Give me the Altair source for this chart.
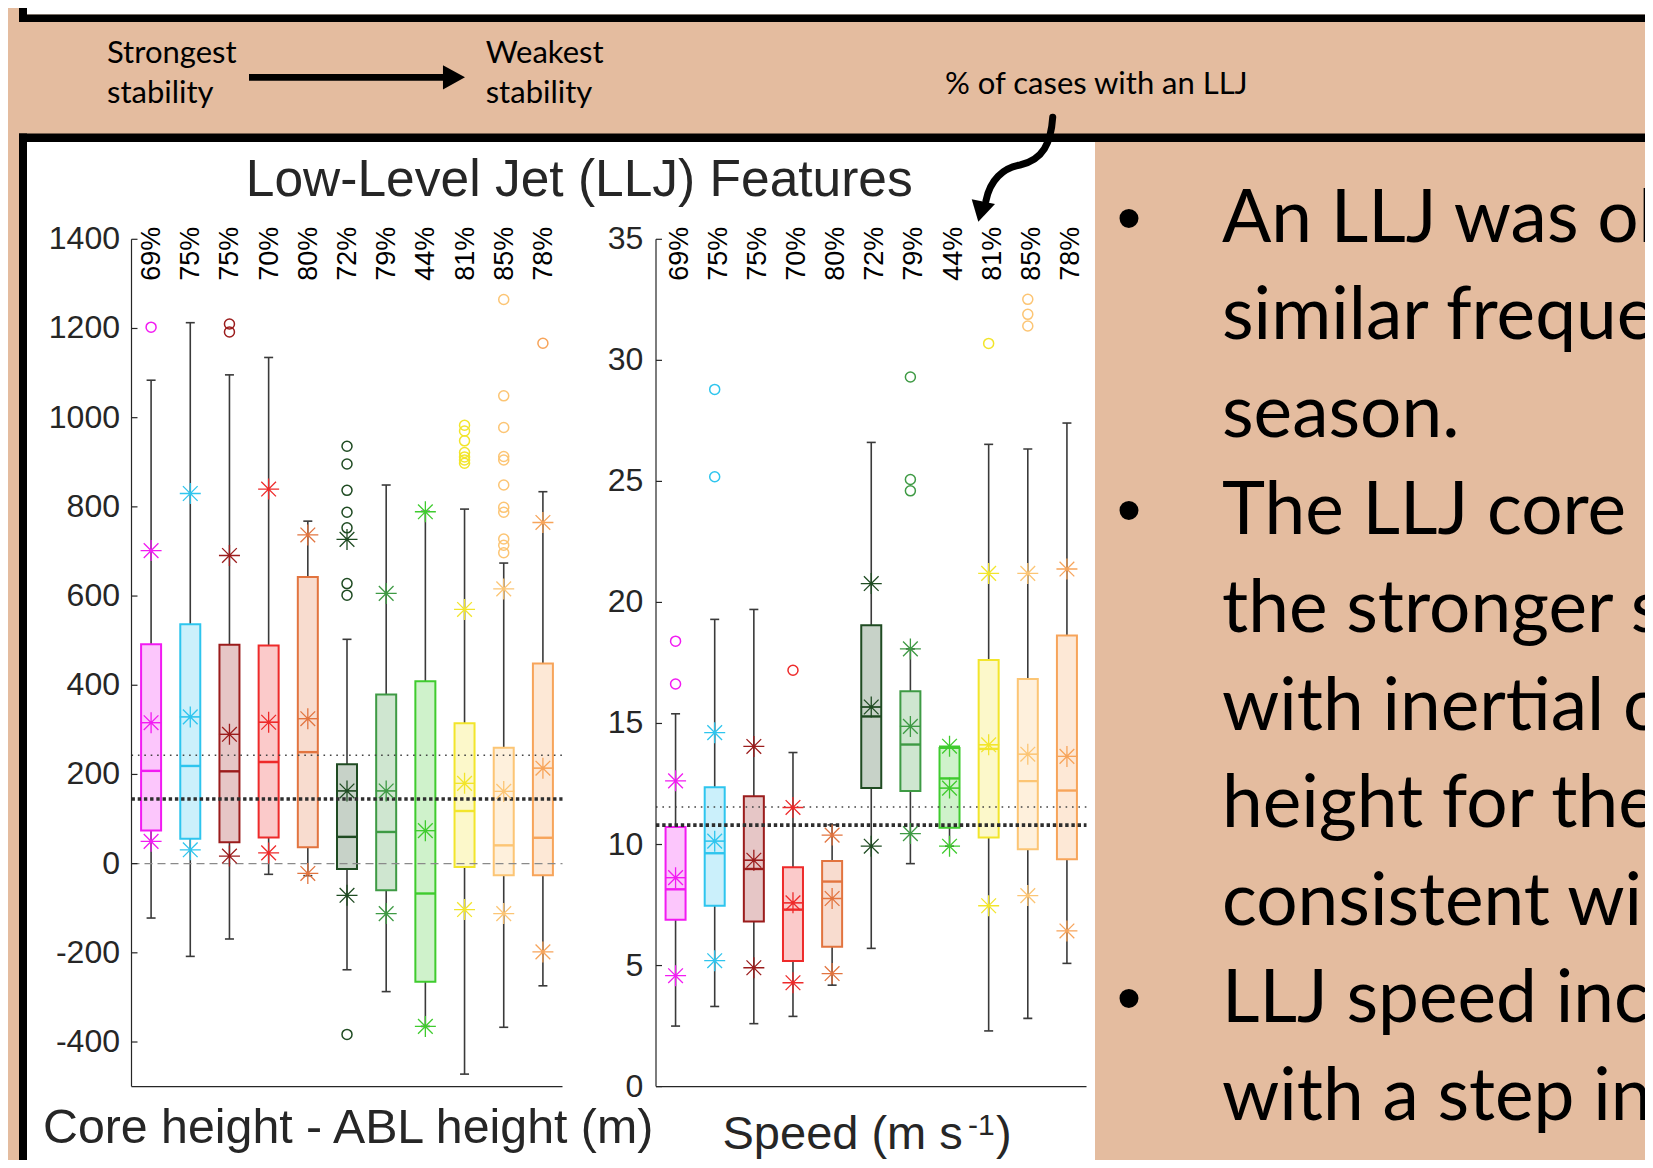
import altair as alt
import pandas as pd

TAN = '#E4BC9F'
INK = '#262626'
WHISK = '#3A3A3A'
FONT = 'Liberation Sans'
CAL = 'Lato'
H = 1152

# ---------------- data ----------------
CATS = list(range(1, 12))
PCT = [69, 75, 75, 70, 80, 72, 79, 44, 81, 85, 78]
EDGE = ['#F21BF2', '#2EC5EE', '#9B1C1C', '#EE2A2A', '#E2743F', '#1F4B22',
        '#3E9A44', '#3FCB2E', '#F2E52B', '#FCC574', '#F7A45A']

# Core height - ABL height (m)
H_WLO = [-122, -208, -169, -24, -27, -238, -287, -365, -472, -367, -274]
H_Q1 = [74.5, 55.7, 47.8, 58.8, 36.9, -11.8, -59.6, -265, -7.8, -25.9, -25.9]
H_MED = [208, 219, 207, 228, 250, 60, 71, -67, 118, 41, 58]
H_Q3 = [492, 537, 491, 489, 643, 223, 379, 409, 315, 260, 449]
H_WHI = [1084, 1213, 1096, 1135, 768, 503, 849, 790, 795, 674, 834]
H_SLO = [50, 31, 17, 24, -22, -71, -112, -365, -103, -112, -198]
H_MEAN = [316, 329, 290, 317, 325, 163, 163, 74, 180, 162, 214]
H_SHI = [702, 830, 691, 840, 737, 727, 606, 789, 570, 616, 765]
H_OUT = [[1203], [], [1210, 1192], [], [],
         [936, 896, 837, 788, 753, 628, 602, -383], [], [],
         [983, 970, 948, 922, 912, 905, 898],
         [1265, 1049, 978, 913, 905, 849, 799, 788, 728, 714, 697], [1167]]
H_FINE, H_THICK = 243, 145
H_TICKS = [-400, -200, 0, 200, 400, 600, 800, 1000, 1200, 1400]
H_DOMAIN = [-500, 1400]

# Speed (m s-1)
S_WLO = [2.5, 3.31, 2.6, 2.9, 4.19, 5.71, 9.21, 9.93, 2.3, 2.82, 5.09]
S_Q1 = [6.89, 7.47, 6.82, 5.19, 5.78, 12.33, 12.21, 10.69, 10.29, 9.8, 9.39]
S_MED = [8.15, 9.64, 8.99, 7.31, 8.47, 15.29, 14.13, 12.73, 13.95, 12.62, 12.23]
S_Q3 = [10.72, 12.37, 11.99, 9.06, 9.32, 19.06, 16.33, 13.99, 17.62, 16.84, 18.63]
S_WHI = [15.4, 19.3, 19.71, 13.8, 10.81, 26.61, 18.08, 13.99, 26.53, 26.34, 27.41]
S_SLO = [4.58, 5.2, 4.91, 4.29, 4.67, 9.93, 10.45, 9.93, 7.47, 7.89, 6.43]
S_MEAN = [8.63, 10.14, 9.35, 7.59, 7.77, 15.68, 14.88, 12.33, 14.12, 13.73, 13.64]
S_SHI = [12.63, 14.62, 14.05, 11.53, 10.39, 20.78, 18.08, 14.06, 21.2, 21.2, 21.38]
S_OUT = [[18.4, 16.63], [28.8, 25.19], [], [17.2], [], [],
         [29.31, 25.08, 24.61], [], [30.7], [32.52, 31.9, 31.42], []]
S_FINE, S_THICK = 11.55, 10.8
S_TICKS = [0, 5, 10, 15, 20, 25, 30, 35]
S_DOMAIN = [0, 35]

BULLET_LINES = ["An LLJ was ob", "similar freque", "season.",
                "The LLJ core i", "the stronger s", "with inertial o",
                "height for the", "consistent wi", "LLJ speed incr",
                "with a step in"]
BULLET_AT = [0, 3, 8]

STAR = "M-1,0L1,0M0,-1L0,1M-0.7,-0.7L0.7,0.7M-0.7,0.7L0.7,-0.7"


def blend(h, a=0.25):
    rgb = [int(h[i:i + 2], 16) for i in (1, 3, 5)]
    return '#%02X%02X%02X' % tuple(round(255 - a * (255 - c)) for c in rgb)


def panel(wlo, q1, med, q3, whi, slo, smean, shi, outs, ticks, dom,
          fine, thick, zero_line, xr, yr, lab_x, pct_shift):
    xs = alt.Scale(domain=[0.5, 11.5], range=xr, nice=False, zero=False, padding=0)
    ys = alt.Scale(domain=dom, range=yr, nice=False, zero=False, padding=0)

    def X(f):
        return alt.X(f, type='quantitative', scale=xs, axis=None)

    def Y(f):
        return alt.Y(f, type='quantitative', scale=ys, axis=None)

    box = pd.DataFrame(dict(cat=CATS, wlo=wlo, q1=q1, med=med, q3=q3, whi=whi,
                            mean=smean, edge=EDGE,
                            fill=[blend(c) for c in EDGE],
                            pct=[f"{p}%" for p in PCT]))
    star_rows = []
    for i, c in enumerate(CATS):
        for v in (slo[i], smean[i], shi[i]):
            star_rows.append(dict(cat=c, v=v, edge=EDGE[i]))
    stars = pd.DataFrame(star_rows)
    out_rows = [dict(cat=CATS[i], v=v, edge=EDGE[i])
                for i in range(len(CATS)) for v in outs[i]]
    outl = pd.DataFrame(out_rows)
    col = alt.Color('edge:N', scale=None)
    base = alt.Chart(box)

    layers = []
    layers.append(base.mark_rule(color=WHISK, strokeWidth=1.6).encode(
        x=X('cat'), y=Y('q3'), y2='whi'))
    layers.append(base.mark_rule(color=WHISK, strokeWidth=1.6).encode(
        x=X('cat'), y=Y('wlo'), y2='q1'))
    layers.append(base.mark_tick(orient='horizontal', size=9, thickness=1.6,
                                 color=WHISK, opacity=1).encode(x=X('cat'), y=Y('whi')))
    layers.append(base.mark_tick(orient='horizontal', size=9, thickness=1.6,
                                 color=WHISK, opacity=1).encode(x=X('cat'), y=Y('wlo')))
    layers.append(base.mark_bar(size=20, strokeWidth=2, opacity=1).encode(
        x=X('cat'), y=Y('q1'), y2='q3',
        fill=alt.Fill('fill:N', scale=None), stroke=alt.Stroke('edge:N', scale=None)))
    layers.append(base.mark_tick(orient='horizontal', size=20, thickness=1,
                                 opacity=1).encode(x=X('cat'), y=Y('mean'), color=col))
    layers.append(base.mark_tick(orient='horizontal', size=20, thickness=2.4,
                                 opacity=1).encode(x=X('cat'), y=Y('med'), color=col))

    ref = lambda v: pd.DataFrame({'lo': [0.5], 'hi': [11.5], 'y': [v]})
    if zero_line:
        layers.append(alt.Chart(ref(0)).mark_rule(
            color='#8A8A8A', strokeWidth=1.4, strokeDash=[8, 5]).encode(
            x=X('lo'), x2='hi', y=Y('y')))
    layers.append(alt.Chart(ref(fine)).mark_rule(
        color='#444444', strokeWidth=1.6, strokeDash=[1.6, 4.8]).encode(
        x=X('lo'), x2='hi', y=Y('y')))
    layers.append(alt.Chart(ref(thick)).mark_rule(
        color='#2E2E2E', strokeWidth=3.6, strokeDash=[3.4, 2.8]).encode(
        x=X('lo'), x2='hi', y=Y('y')))

    layers.append(alt.Chart(stars).mark_point(
        shape=STAR, filled=False, size=441, strokeWidth=1.3, opacity=1).encode(
        x=X('cat'), y=Y('v'), color=col))
    layers.append(alt.Chart(outl).mark_point(
        shape='circle', filled=False, size=100, strokeWidth=1.5, opacity=1).encode(
        x=X('cat'), y=Y('v'), color=col))

    layers.append(base.mark_text(angle=270, align='right', baseline='middle',
                                 fontSize=27, font=FONT, color='black',
                                 dy=pct_shift).encode(
        x=X('cat'), y=alt.value(218.7), text='pct:N'))

    frame = pd.DataFrame({'x0': [0.5], 'x1': [11.5], 'y0': [dom[0]], 'y1': [dom[1]]})
    layers.append(alt.Chart(frame).mark_rule(color=INK, strokeWidth=1.2).encode(
        x=X('x0'), y=Y('y0'), y2='y1'))
    layers.append(alt.Chart(frame).mark_rule(color=INK, strokeWidth=1.2).encode(
        x=X('x0'), x2='x1', y=Y('y0')))
    tk = pd.DataFrame({'v': ticks, 'lab': [str(t) for t in ticks]})
    layers.append(alt.Chart(tk).mark_rule(color=INK, strokeWidth=1.2).encode(
        x=alt.value(xr[0]), x2=alt.value(xr[0] + 6), y=Y('v')))
    layers.append(alt.Chart(tk).mark_text(align='right', baseline='middle',
                                          fontSize=32, font=FONT, color=INK).encode(
        x=alt.value(lab_x), y=Y('v'), text='lab:N'))
    return alt.layer(*layers)


left = panel(H_WLO, H_Q1, H_MED, H_Q3, H_WHI, H_SLO, H_MEAN, H_SHI, H_OUT,
             H_TICKS, H_DOMAIN, H_FINE, H_THICK, True,
             [123.5, 554.5], [1078.6, 231.3], 112, 1)
right = panel(S_WLO, S_Q1, S_MED, S_Q3, S_WHI, S_SLO, S_MEAN, S_SHI, S_OUT,
              S_TICKS, S_DOMAIN, S_FINE, S_THICK, False,
              [648, 1078.5], [1078.6, 231.3], 635.3, 4)

one = alt.Data(values=[{}])


def rect(x0, x1, y0, y1, color):
    return alt.Chart(one).mark_rect(color=color, opacity=1).encode(
        x=alt.value(x0), x2=alt.value(x1), y=alt.value(y0), y2=alt.value(y1))


def label(txt, x, y, size, font, color='black', align='left'):
    return alt.Chart(one).mark_text(text=txt, fontSize=size, font=font, color=color,
                                    align=align, baseline='alphabetic').encode(
        x=alt.value(x), y=alt.value(y))


def shape(path, x, y, span, filled, sw=0):
    kw = dict(shape=path, size=span * span, opacity=1, color='black', filled=filled)
    if not filled:
        kw.update(strokeWidth=sw, strokeCap='round')
    return alt.Chart(one).mark_point(**kw).encode(x=alt.value(x), y=alt.value(y))


ARROW = ("M-1,-0.031L0.796,-0.031L0.796,-0.1125L1,0L0.796,0.1125"
         "L0.796,0.031L-1,0.031Z")
CURVE = ("M0.662,-0.87 C0.633,-0.44 0.5,-0.16 0.117,-0.075 "
         "C-0.167,-0.025 -0.383,0.175 -0.45,0.52")
HEAD = "M-0.688,0.497 L-0.3,0.575 L-0.578,0.87 Z"

deco = [
    rect(19, 1637, 0, 6.5, 'white'),
    rect(11, 1637, 6.5, 14, 'black'),
    rect(11, 19, 0, 14, 'black'),
    rect(11, 1637, 125.5, 134, 'black'),
    rect(11, 19, 125.5, H, 'black'),
    rect(19, 1087, 134, H, 'white'),
]

texts = [
    label("Low-Level Jet (LLJ) Features", 571.3, 188, 51.5, FONT, INK, 'center'),
    label("Core height - ABL height (m)", 35, 1135, 48.3, FONT, INK),
    label("Speed (m s", 714.5, 1141, 47, FONT, INK),
    label("-1", 960, 1127, 30, FONT, INK),
    label(")", 988, 1141, 47, FONT, INK),
    label("Strongest", 99, 55.3, 31, CAL),
    label("stability", 99, 95.3, 31, CAL),
    label("Weakest", 477.7, 55.3, 31, CAL),
    label("stability", 477.7, 95.3, 31, CAL),
    label("% of cases with an LLJ", 937, 86.3, 31, CAL),
    shape(ARROW, 349, 69.3, 216, True),
    shape(CURVE, 1005, 161.5, 120, False, 7),
    shape(HEAD, 1005, 161.5, 120, True),
]
for k, line in enumerate(BULLET_LINES):
    yb = 233.5 + 97.6 * k
    texts.append(label(line, 1214, yb, 73, CAL))
    if k in BULLET_AT:
        texts.append(label("\u2022", 1121, yb, 70, FONT, 'black', 'center'))

chart = alt.layer(*deco, left, right, *texts).resolve_scale(
    x='independent', y='independent'
).properties(
    width=1637, height=H,
    autosize=alt.AutoSizeParams(type='none'),
    padding=0,
    background=TAN,
).configure_view(stroke=None)

chart.save("out.html", embed_options={"renderer": "svg", "actions": False})
